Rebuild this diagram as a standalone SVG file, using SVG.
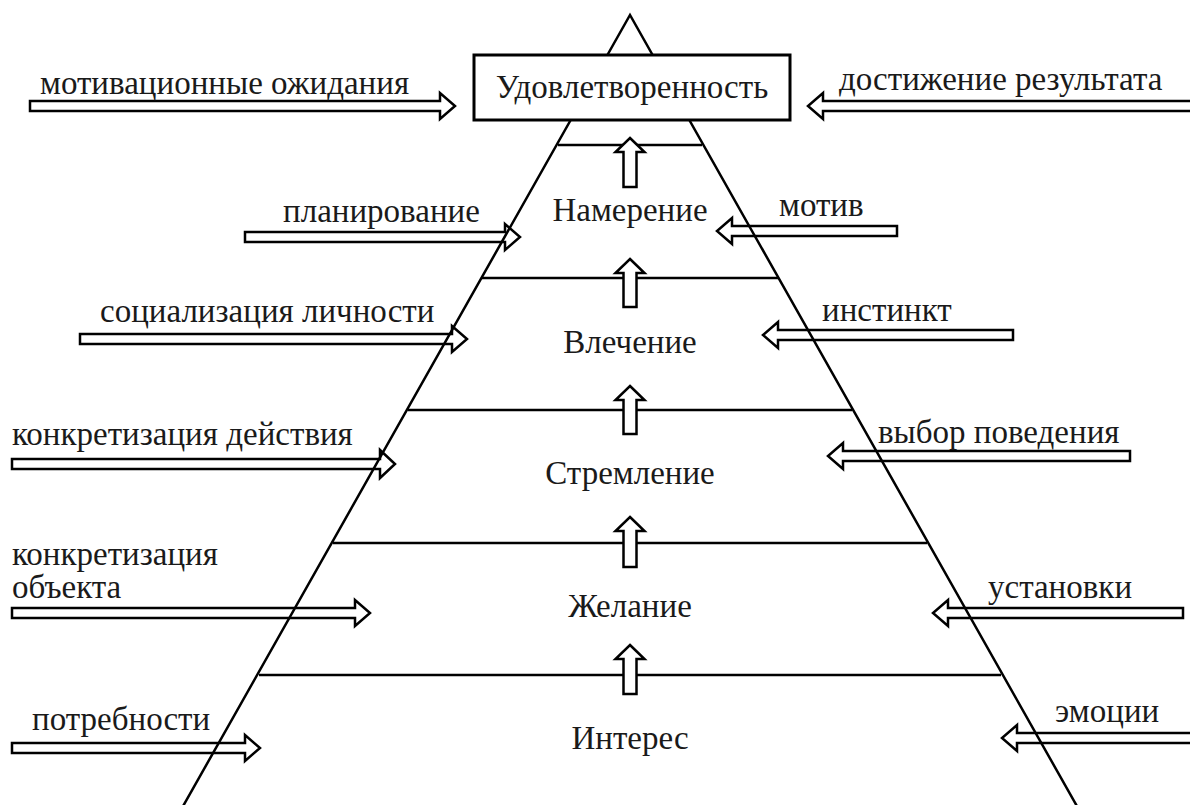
<svg xmlns="http://www.w3.org/2000/svg" width="1190" height="805" viewBox="0 0 1190 805">
<style>
text{font-family:"Liberation Serif","Times New Roman",serif;font-size:33px;fill:#1a1a1a}
.c{text-anchor:middle}
.edge{fill:none;stroke:#000;stroke-width:2.5}
.lvl{stroke:#000;stroke-width:2.5}
.blk{fill:#fff;stroke:#000;stroke-width:2.5;stroke-linejoin:miter}
.box{fill:#fff;stroke:#000;stroke-width:3}
</style>
<rect width="1190" height="805" fill="#fff"/>
<g id="connectors">
<path class="blk" d="M30,101 H440 V93 L455,106 L440,119 V111 H30 Z"/>
<path class="blk" d="M245,232 H505 V224 L520,237 L505,250 V242 H245 Z"/>
<path class="blk" d="M80,334 H452 V326 L467,339 L452,352 V344 H80 Z"/>
<path class="blk" d="M12,459 H380 V450 L395,464 L380,478 V469 H12 Z"/>
<path class="blk" d="M12,608 H355 V600 L370,613 L355,626 V618 H12 Z"/>
<path class="blk" d="M12,743 H245 V735 L260,748 L245,761 V753 H12 Z"/>
<path class="blk" d="M1195,101 H823 V93 L808,106 L823,119 V111 H1195 Z"/>
<path class="blk" d="M897,226 H732 V218 L717,231 L732,244 V236 H897 Z"/>
<path class="blk" d="M1013,330 H778 V322 L763,335 L778,348 V340 H1013 Z"/>
<path class="blk" d="M1130,451 H843 V443 L828,456 L843,469 V461 H1130 Z"/>
<path class="blk" d="M1183,608 H948 V600 L933,613 L948,626 V618 H1183 Z"/>
<path class="blk" d="M1195,733 H1017 V725 L1002,738 L1017,751 V743 H1195 Z"/>
</g>
<g id="pyramid">
<path class="edge" d="M182,808 L630,15 L1078,808"/>
<line class="lvl" x1="558" y1="145" x2="702" y2="145"/>
<line class="lvl" x1="482" y1="278" x2="778" y2="278"/>
<line class="lvl" x1="408" y1="410" x2="852" y2="410"/>
<line class="lvl" x1="333" y1="543" x2="927" y2="543"/>
<line class="lvl" x1="259" y1="675" x2="1001" y2="675"/>
</g>
<g id="up-arrows">
<path class="blk" d="M630,138 L644.5,152 H636.5 V187 H623.5 V152 H615.5 Z"/>
<path class="blk" d="M630,259 L644.5,273 H636.5 V307 H623.5 V273 H615.5 Z"/>
<path class="blk" d="M630,386 L644.5,400 H636.5 V434 H623.5 V400 H615.5 Z"/>
<path class="blk" d="M630,517 L644.5,531 H636.5 V567 H623.5 V531 H615.5 Z"/>
<path class="blk" d="M630,645 L644.5,659 H636.5 V694 H623.5 V659 H615.5 Z"/>
</g>
<g id="node-satisfaction">
<rect class="box" x="474" y="55" width="316" height="65"/>
<text class="c" x="632" y="98">Удовлетворенность</text>
</g>
<g id="node-intention"><text class="c" x="630" y="221">Намерение</text></g>
<g id="node-attraction"><text class="c" x="630" y="353">Влечение</text></g>
<g id="node-aspiration"><text class="c" x="630" y="484">Стремление</text></g>
<g id="node-desire"><text class="c" x="630" y="617">Желание</text></g>
<g id="node-interest"><text class="c" x="630" y="749">Интерес</text></g>
<g id="labels-left">
<text x="40" y="94">мотивационные ожидания</text>
<text x="283" y="222">планирование</text>
<text x="100" y="322">социализация личности</text>
<text x="12" y="445">конкретизация действия</text>
<text x="12" y="565">конкретизация</text>
<text x="12" y="598">объекта</text>
<text x="32" y="730">потребности</text>
</g>
<g id="labels-right">
<text x="839" y="90">достижение результата</text>
<text x="779" y="216">мотив</text>
<text x="822" y="321">инстинкт</text>
<text x="878" y="443">выбор поведения</text>
<text x="988" y="598">установки</text>
<text x="1055" y="722">эмоции</text>
</g>
</svg>
